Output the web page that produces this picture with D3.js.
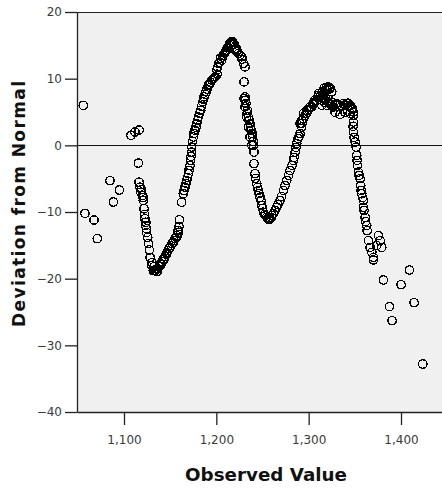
<!DOCTYPE html>
<html>
<head>
<meta charset="utf-8">
<script src="https://cdn.jsdelivr.net/npm/d3@7"></script>
<style>
  body { margin: 0; background: #fff; }
  svg text { font-family: "DejaVu Sans", sans-serif; }
  .tick text { font-size: 12px; fill: #3a3a3a; }
  .axis-title { font-weight: bold; font-size: 17px; fill: #111; }
</style>
</head>
<body>
<svg id="chart" width="442" height="488"></svg>
<script>
var scatterLeft = [
  [1055.9, 6.0], [1057.7, -10.2], [1067.5, -11.2], [1071.1, -14.0],
  [1084.8, -5.3], [1088.4, -8.5], [1094.9, -6.7],
  [1107.6, 1.5], [1111.9, 2.0], [1116.3, 2.3]
];

var firstTrough = [
  [1115.5, -2.66], [1116.3, -5.52], [1117.3, -6.27], [1118.1, -7.02], [1119.0, -6.62],
  [1120.3, -7.52], [1120.6, -7.82], [1120.9, -8.27], [1121.7, -9.52], [1122.2, -10.38],
  [1122.7, -11.02], [1123.3, -12.03], [1123.8, -11.54], [1124.4, -13.08], [1124.6, -12.53],
  [1125.7, -13.79], [1126.5, -14.74], [1127.4, -15.69], [1128.2, -16.8], [1130.0, -18.05],
  [1130.3, -17.6], [1131.7, -18.8], [1132.5, -18.2], [1133.6, -18.8], [1135.4, -18.54],
  [1135.8, -18.95], [1136.8, -18.5], [1137.9, -18.2], [1139.0, -17.79], [1140.1, -17.9],
  [1141.2, -17.45], [1142.6, -17.04], [1143.3, -17.15], [1144.4, -16.69], [1146.3, -16.29],
  [1146.6, -16.09], [1147.7, -15.79], [1148.8, -15.49], [1149.8, -15.3], [1150.9, -15.04],
  [1152.0, -14.74], [1153.4, -14.54], [1154.2, -14.29], [1155.3, -13.99], [1157.1, -13.79],
  [1157.4, -13.54], [1158.5, -12.78], [1158.8, -13.04], [1159.6, -12.18], [1159.9, -11.17],
  [1162.5, -8.53], [1164.2, -7.26], [1165.0, -6.77], [1166.1, -6.27], [1167.2, -5.72],
  [1167.9, -5.26], [1168.8, -4.81], [1169.7, -4.26], [1170.4, -3.76], [1171.5, -3.01],
  [1172.0, -2.26], [1172.6, -1.65], [1173.3, -1.01]
];

var firstPeak = [
  [1173.3, -0.26], [1174.2, 0.6], [1175.1, 1.25], [1175.8, 1.8], [1176.9, 2.26],
  [1178.0, 2.71], [1178.8, 3.26], [1179.6, 3.76], [1180.5, 4.26], [1181.8, 4.81],
  [1183.1, 5.26], [1183.9, 5.87], [1185.3, 6.51], [1186.1, 6.92], [1186.7, 7.26],
  [1187.8, 7.67], [1188.8, 8.02], [1189.9, 8.42], [1191.3, 9.02], [1192.6, 9.17],
  [1193.7, 9.48], [1195.0, 9.78], [1196.4, 9.93], [1197.5, 10.08], [1198.6, 10.27],
  [1200.4, 11.28], [1200.8, 10.68], [1201.3, 11.73], [1202.2, 12.29], [1203.5, 12.48],
  [1204.5, 13.08], [1205.8, 12.78], [1206.7, 13.24], [1207.6, 13.54], [1208.9, 13.84],
  [1210.0, 14.14], [1211.3, 14.29], [1212.7, 14.74], [1213.8, 15.04], [1214.8, 15.3],
  [1215.9, 15.34], [1216.7, 15.54], [1217.8, 15.54], [1219.2, 15.19], [1220.3, 14.29],
  [1221.4, 14.59], [1222.4, 14.14], [1223.8, 13.79], [1225.7, 13.54], [1227.5, 13.28],
  [1227.8, 12.93], [1229.3, 12.29], [1231.1, 11.78], [1230.0, 9.52], [1230.0, 7.02],
  [1231.1, 7.26], [1231.1, 5.76], [1231.6, 6.77], [1232.2, 6.27], [1232.9, 4.26],
  [1233.3, 4.81], [1233.6, 5.26], [1234.7, 2.75], [1234.7, 4.26], [1235.4, 3.76],
  [1236.5, 3.26], [1236.5, 1.25], [1237.1, 2.71], [1237.6, 2.26], [1238.4, 0.0],
  [1238.7, 1.8], [1239.4, 1.25], [1239.8, 0.6], [1240.1, 0.0]
];

var secondTrough = [
  [1240.8, -1.01], [1240.8, -2.75], [1241.9, -4.26], [1242.5, -4.96], [1243.8, -5.76],
  [1244.7, -6.32], [1245.5, -6.77], [1246.3, -7.22], [1247.3, -7.78], [1248.4, -8.27],
  [1249.2, -9.02], [1250.1, -9.48], [1250.9, -10.03], [1252.2, -10.38], [1253.3, -10.53],
  [1254.6, -10.78], [1256.0, -10.98], [1257.1, -11.13], [1258.2, -11.02], [1259.8, -10.83],
  [1260.3, -10.53], [1261.8, -10.27], [1263.6, -9.78], [1265.4, -9.28], [1266.8, -8.87],
  [1269.0, -8.27], [1270.6, -7.67], [1272.6, -6.77], [1274.4, -6.02], [1276.3, -5.26],
  [1278.2, -4.51], [1279.8, -3.76], [1282.0, -3.01], [1283.4, -2.26], [1284.2, -1.8],
  [1285.3, -1.01], [1286.3, -0.3], [1287.1, 0.26], [1288.5, 1.05], [1289.6, 1.35],
  [1290.7, 1.76]
];

var secondPeak = [
  [1290.7, 3.26], [1292.5, 2.75], [1292.5, 3.76], [1292.8, 3.31], [1294.3, 4.02],
  [1294.3, 4.77], [1296.1, 4.51], [1297.9, 4.77], [1297.9, 5.26], [1299.4, 5.41],
  [1301.0, 5.72], [1301.5, 5.76], [1303.4, 5.76], [1304.2, 6.17], [1305.1, 6.27],
  [1305.9, 6.47], [1306.9, 6.77], [1308.7, 6.77], [1309.7, 7.22], [1310.5, 7.78],
  [1310.7, 7.52], [1312.3, 7.26], [1314.2, 6.77], [1314.2, 6.02], [1314.5, 7.07],
  [1315.1, 7.97], [1315.9, 7.52], [1315.9, 7.78], [1316.7, 8.57], [1317.2, 6.47],
  [1317.8, 8.27], [1318.3, 7.07], [1319.4, 8.72], [1319.6, 6.02], [1320.0, 8.27],
  [1321.0, 6.47], [1321.3, 8.77], [1322.1, 8.42], [1323.2, 8.53], [1323.7, 6.17],
  [1325.0, 8.02], [1325.3, 6.47], [1326.8, 5.76], [1328.6, 6.02], [1328.6, 4.96],
  [1330.4, 6.27], [1331.8, 6.17], [1334.0, 6.02], [1334.0, 4.66], [1335.6, 5.87],
  [1337.6, 6.27], [1339.4, 6.02], [1339.4, 4.96], [1341.3, 6.27], [1342.7, 6.32],
  [1343.8, 5.87], [1344.9, 6.02], [1344.9, 4.81], [1346.7, 5.52], [1347.6, 5.41],
  [1348.4, 5.01], [1348.4, 4.51], [1348.4, 3.5], [1348.1, 2.86], [1348.4, 2.0],
  [1349.2, 1.2], [1350.3, 0.5], [1351.4, -0.26], [1352.1, -1.5], [1352.4, -2.26],
  [1352.8, -3.01], [1353.8, -4.02], [1354.6, -4.51], [1355.7, -5.01], [1356.4, -6.02],
  [1356.8, -6.77], [1357.5, -7.26], [1358.4, -7.82], [1359.3, -8.27], [1359.3, -9.28],
  [1360.0, -9.78], [1361.1, -10.78], [1361.7, -11.43], [1362.9, -12.03], [1363.3, -12.78]
];

var scatterRight = [
  [1364.7, -14.29], [1366.5, -15.3], [1368.4, -16.05], [1370.1, -16.8], [1370.1, -17.19],
  [1373.7, -15.04], [1375.5, -13.54], [1377.4, -14.29], [1379.2, -15.3],
  [1380.9, -20.2], [1387.4, -24.2], [1390.3, -26.3], [1400.1, -20.9],
  [1409.1, -18.7], [1414.2, -23.6], [1423.6, -32.8]
];

var xTicks = [1100, 1200, 1300, 1400];
var yTicks = [-40, -30, -20, -10, 0, 10, 20];

var points = [].concat(scatterLeft, firstTrough, firstPeak, secondTrough, secondPeak, scatterRight);

var plotLeft = 77, plotRight = 442, plotTop = 12, plotBottom = 412;

var x = d3.scaleLinear().domain([1049.1, 1444.4]).range([plotLeft, plotRight]);
var y = d3.scaleLinear().domain([-40, 20]).range([plotBottom, plotTop]);

var svg = d3.select("#chart");

// plot background
svg.append("rect")
    .attr("x", plotLeft)
    .attr("y", plotTop)
    .attr("width", plotRight - plotLeft)
    .attr("height", plotBottom - plotTop)
    .attr("fill", "#f0f0f0");

// top frame line
svg.append("line")
    .attr("x1", plotLeft).attr("x2", plotRight)
    .attr("y1", plotTop + 0.5).attr("y2", plotTop + 0.5)
    .attr("stroke", "#222").attr("stroke-width", 1);

// reference line at zero
svg.append("line")
    .attr("x1", plotLeft).attr("x2", plotRight)
    .attr("y1", Math.round(y(0)) + 0.5).attr("y2", Math.round(y(0)) + 0.5)
    .attr("stroke", "#111").attr("stroke-width", 1);

// points
svg.append("g")
  .selectAll("circle")
  .data(points)
  .enter().append("circle")
    .attr("cx", function(d) { return x(d[0]); })
    .attr("cy", function(d) { return y(d[1]); })
    .attr("r", 4.2)
    .attr("fill", "none")
    .attr("stroke", "#000")
    .attr("stroke-width", 1.3)
    .attr("shape-rendering", "crispEdges");

// axes
var yAxis = d3.axisLeft(y)
    .tickValues(yTicks)
    .tickSize(12)
    .tickSizeOuter(0)
    .tickPadding(3);

var xAxis = d3.axisBottom(x)
    .tickValues(xTicks)
    .tickFormat(d3.format(","))
    .tickSize(13)
    .tickSizeOuter(0)
    .tickPadding(10);

svg.append("g")
    .attr("transform", "translate(" + plotLeft + ",0)")
    .call(yAxis);

svg.append("g")
    .attr("transform", "translate(0," + plotBottom + ")")
    .call(xAxis);

svg.selectAll(".domain").attr("stroke", "#222").attr("stroke-width", 1.3);
svg.selectAll(".tick line").attr("stroke", "#222").attr("stroke-width", 1.3);

// axis titles
svg.append("text")
    .attr("class", "axis-title")
    .attr("x", 266)
    .attr("y", 481)
    .attr("text-anchor", "middle")
    .attr("textLength", 162)
    .attr("lengthAdjust", "spacingAndGlyphs")
    .text("Observed Value");

svg.append("text")
    .attr("class", "axis-title")
    .attr("transform", "translate(25,204) rotate(-90)")
    .attr("text-anchor", "middle")
    .attr("textLength", 246)
    .attr("lengthAdjust", "spacing")
    .text("Deviation from Normal");
</script>
</body>
</html>
